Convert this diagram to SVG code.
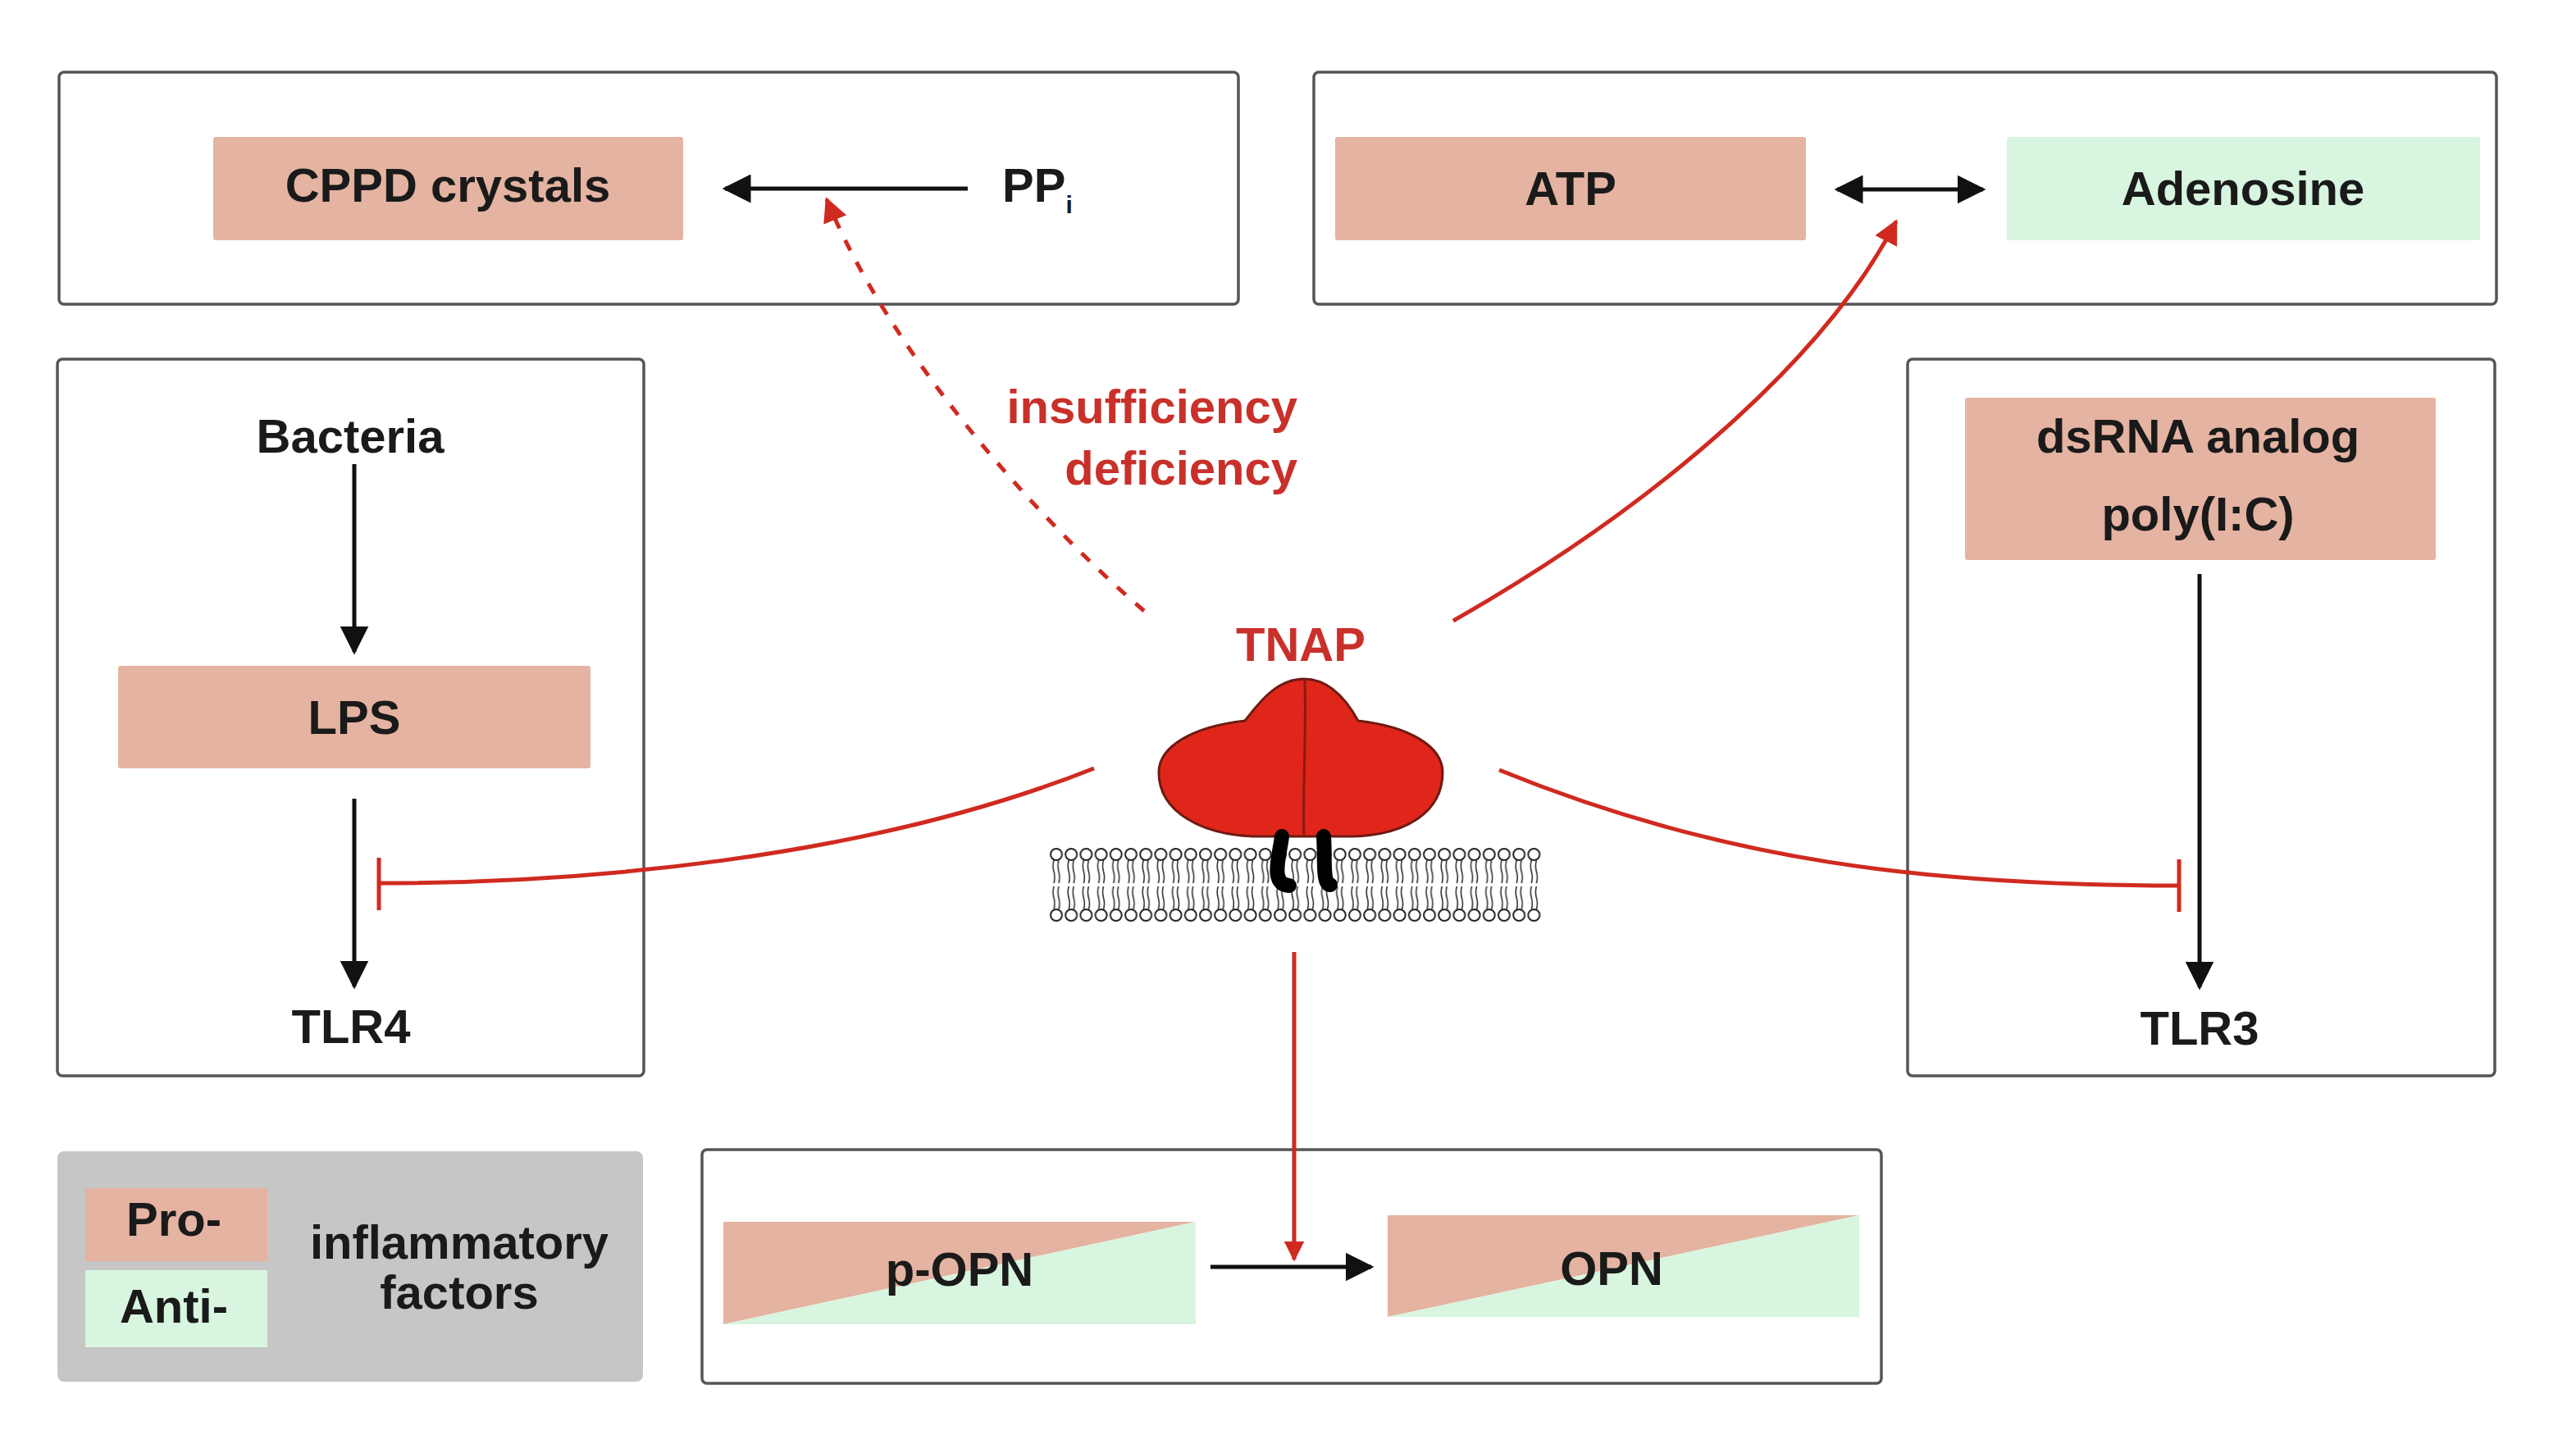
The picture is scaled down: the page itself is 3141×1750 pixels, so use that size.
<svg xmlns="http://www.w3.org/2000/svg" width="3141" height="1750" viewBox="0 0 3141 1750">
<style>
.box{fill:#fff;stroke:#555;stroke-width:3.5}
.pro{fill:#e5b3a1}
.anti{fill:#d8f5df}
.t{font-family:"Liberation Sans",Arial,sans-serif;font-weight:bold;font-size:58px;fill:#1a1a1a;text-anchor:middle}
.st{text-anchor:start}
.en{text-anchor:end}
.r{fill:#c9302a}
.blk{stroke:#111;stroke-width:5;fill:none}
.red{stroke:#d02a20;stroke-width:5;fill:none}
</style>
<defs>
<marker id="ab" viewBox="0 0 10 10" refX="9" refY="5" markerWidth="7" markerHeight="7" orient="auto-start-reverse" markerUnits="strokeWidth"><path d="M0,0 L10,5 L0,10 Z" fill="#111"/></marker>
<marker id="ar" viewBox="0 0 10 10" refX="9" refY="5" markerWidth="6" markerHeight="6" orient="auto" markerUnits="strokeWidth"><path d="M0,0 L10,5 L0,10 Z" fill="#d02a20"/></marker>
<marker id="ar2" viewBox="0 0 10 10" refX="9" refY="5" markerWidth="5" markerHeight="5" orient="auto" markerUnits="strokeWidth"><path d="M0,0 L10,5 L0,10 Z" fill="#d02a20"/></marker>
<pattern id="mem" x="1279" y="1034" width="18.2" height="90" patternUnits="userSpaceOnUse">
<circle cx="9" cy="8" r="7" fill="#fff" stroke="#222" stroke-width="2"/>
<circle cx="9" cy="82" r="7" fill="#fff" stroke="#222" stroke-width="2"/>
<path d="M6,15 q-2,7 0,14 q2,7 0,14 M12,15 q-2,7 0,14 q2,7 0,14 M6,47 q-2,7 0,14 q2,7 0,14 M12,47 q-2,7 0,14 q2,7 0,14" stroke="#333" stroke-width="1.6" fill="none"/>
</pattern>
</defs>
<rect width="3141" height="1750" fill="#fff"/>

<g id="box-pp">
<rect class="box" x="72" y="88" width="1438" height="283" rx="6"/>
<rect class="pro" x="260" y="167" width="573" height="126" rx="3"/>
<text class="t" x="546" y="246">CPPD crystals</text>
<text class="t st" x="1222" y="246">PP<tspan font-size="30" dy="14">i</tspan></text>
</g>
<g id="box-atp">
<rect class="box" x="1602" y="88" width="1442" height="283" rx="6"/>
<rect class="pro" x="1628" y="167" width="574" height="126" rx="3"/>
<text class="t" x="1915" y="250">ATP</text>
<rect class="anti" x="2447" y="167" width="577" height="126" rx="3"/>
<text class="t" x="2735" y="250">Adenosine</text>
</g>
<g id="box-tlr4">
<rect class="box" x="70" y="438" width="715" height="874" rx="6"/>
<text class="t" x="427" y="552">Bacteria</text>
<rect class="pro" x="144" y="812" width="576" height="125" rx="3"/>
<text class="t" x="432" y="895">LPS</text>
<text class="t" x="428" y="1272">TLR4</text>
</g>
<g id="box-tlr3">
<rect class="box" x="2326" y="438" width="716" height="874" rx="6"/>
<rect class="pro" x="2396" y="485" width="574" height="198" rx="3"/>
<text class="t" x="2680" y="552">dsRNA analog</text>
<text class="t" x="2680" y="647">poly(I:C)</text>
<text class="t" x="2682" y="1274">TLR3</text>
</g>
<g id="box-opn">
<rect class="box" x="856" y="1402" width="1438" height="285" rx="6"/>
<polygon class="pro" points="882,1490 1458,1490 882,1615"/>
<polygon class="anti" points="1458,1490 1458,1615 882,1615"/>
<text class="t" x="1170" y="1568">p-OPN</text>
<polygon class="pro" points="1692,1482 2267,1482 1692,1606"/>
<polygon class="anti" points="2267,1482 2267,1606 1692,1606"/>
<text class="t" x="1965" y="1567">OPN</text>
</g>
<g id="legend">
<rect x="70" y="1404" width="714" height="281" rx="8" fill="#c6c6c6"/>
<rect class="pro" x="104" y="1449" width="222" height="89"/>
<rect class="anti" x="104" y="1549" width="222" height="94"/>
<text class="t" x="212" y="1507" font-size="52">Pro-</text>
<text class="t" x="212" y="1613" font-size="52">Anti-</text>
<text class="t" x="560" y="1535" font-size="52">inflammatory</text>
<text class="t" x="560" y="1596" font-size="52">factors</text>
</g>
<g id="tnap">
<text class="t r" x="1586" y="806" font-size="64">TNAP</text>
<rect x="1279" y="1034" width="600" height="90" fill="url(#mem)"/>
<path d="M1590,828 C1560,828 1540,850 1518,879 C1455,886 1413,910 1413,942 C1413,990 1465,1018 1530,1020 L1650,1020 C1715,1018 1759,990 1759,942 C1759,910 1718,886 1656,879 C1640,850 1618,828 1590,828 Z" fill="#e0261a" stroke="#6e1a12" stroke-width="3"/>
<path d="M1591,830 C1593,900 1588,970 1590,1020" stroke="#8a1a12" stroke-width="3" fill="none"/>
<path d="M1563,1020 C1560,1045 1548,1078 1572,1080 M1614,1020 C1616,1045 1612,1078 1622,1079" stroke="#000" stroke-width="18" fill="none" stroke-linecap="round"/>
</g>
<g id="connectors">
<line class="blk" x1="1180" y1="230" x2="884" y2="230" marker-end="url(#ab)"/>
<line class="blk" x1="2240" y1="231" x2="2418" y2="231" marker-start="url(#ab)" marker-end="url(#ab)"/>
<line class="blk" x1="432" y1="566" x2="432" y2="795" stroke-width="4" marker-end="url(#ab)"/>
<line class="blk" x1="432" y1="974" x2="432" y2="1203" stroke-width="4" marker-end="url(#ab)"/>
<line class="blk" x1="2682" y1="700" x2="2682" y2="1204" stroke-width="4" marker-end="url(#ab)"/>
<line class="blk" x1="1476" y1="1545" x2="1672" y2="1545" marker-end="url(#ab)"/>
<path class="red" d="M1395,745 C1250,620 1080,420 1008,243" stroke-width="6" stroke-dasharray="14 16" marker-end="url(#ar)"/>
<path class="red" d="M1772,757 C2030,610 2230,430 2312,270" marker-end="url(#ar)"/>
<path class="red" d="M1334,937 C1050,1050 700,1077 462,1077"/>
<line class="red" x1="462" y1="1046" x2="462" y2="1110"/>
<path class="red" d="M1828,939 C2100,1050 2350,1080 2657,1080"/>
<line class="red" x1="2657" y1="1048" x2="2657" y2="1112"/>
<line class="red" x1="1578" y1="1161" x2="1578" y2="1536" stroke-width="4" marker-end="url(#ar2)"/>
</g>
<text class="t r en" x="1582" y="516" font-size="60">insufficiency</text>
<text class="t r en" x="1582" y="591" font-size="60">deficiency</text>
</svg>
